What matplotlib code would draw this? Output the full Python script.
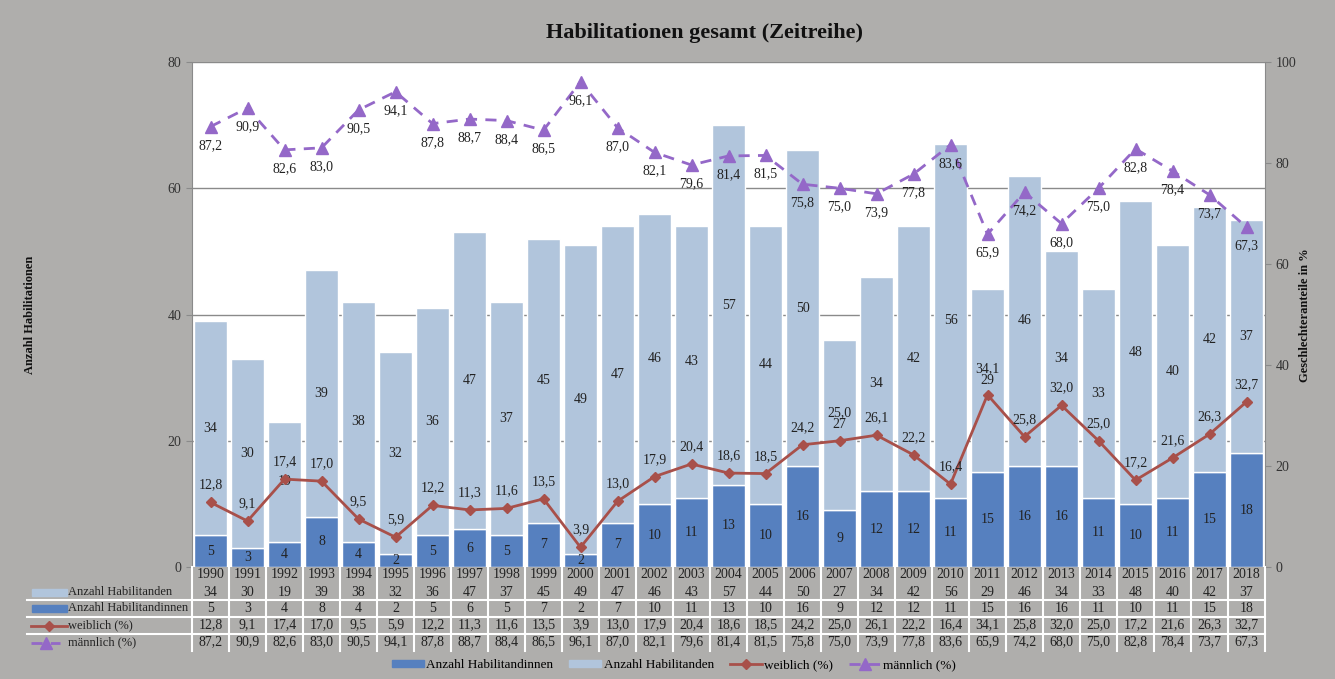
import matplotlib
matplotlib.use("Agg")
import matplotlib.pyplot as plt
import matplotlib.transforms as mtransforms
from matplotlib.lines import Line2D
from matplotlib.patches import Rectangle
import numpy as np

plt.rcParams['font.family'] = ['Liberation Serif', 'DejaVu Serif']

years = [str(y) for y in range(1990, 2019)]
habilitanden = [34, 30, 19, 39, 38, 32, 36, 47, 37, 45, 49, 47, 46, 43, 57, 44, 50, 27, 34, 42, 56, 29, 46, 34, 33, 48, 40, 42, 37]
habilitandinnen = [5, 3, 4, 8, 4, 2, 5, 6, 5, 7, 2, 7, 10, 11, 13, 10, 16, 9, 12, 12, 11, 15, 16, 16, 11, 10, 11, 15, 18]
weiblich = [12.8, 9.1, 17.4, 17.0, 9.5, 5.9, 12.2, 11.3, 11.6, 13.5, 3.9, 13.0, 17.9, 20.4, 18.6, 18.5, 24.2, 25.0, 26.1, 22.2, 16.4, 34.1, 25.8, 32.0, 25.0, 17.2, 21.6, 26.3, 32.7]
maennlich = [87.2, 90.9, 82.6, 83.0, 90.5, 94.1, 87.8, 88.7, 88.4, 86.5, 96.1, 87.0, 82.1, 79.6, 81.4, 81.5, 75.8, 75.0, 73.9, 77.8, 83.6, 65.9, 74.2, 68.0, 75.0, 82.8, 78.4, 73.7, 67.3]

# label offsets (points) for the female-share labels that were moved in the original
w_label_offset = {'2007': 20, '2011': 19}

BG = '#afaeac'
DARK = '#5680bf'
LIGHT = '#b1c5dc'
RED = '#a8504a'
PURPLE = '#9468c8'
TXT = '#222222'

W, H = 1335, 679
fig = plt.figure(figsize=(W / 100, H / 100), dpi=100, facecolor=BG)
L, R, T, B = 192, 1265, 62, 567
ax = fig.add_axes([L / W, 1 - B / H, (R - L) / W, (B - T) / H])
ax.set_facecolor('white')
n = len(years)
x = np.arange(n)

fmt = lambda v: f"{v:.1f}".replace('.', ',')

ax.bar(x, habilitandinnen, width=0.88, color=DARK, edgecolor='white', linewidth=1.0, zorder=2)
ax.bar(x, habilitanden, bottom=habilitandinnen, width=0.88, color=LIGHT, edgecolor='white', linewidth=1.0, zorder=2)
for i in range(n):
    ax.text(x[i], habilitandinnen[i] / 2, str(habilitandinnen[i]), ha='center', va='center', fontsize=10, color=TXT, zorder=5)
    ax.text(x[i], habilitandinnen[i] + habilitanden[i] / 2, str(habilitanden[i]), ha='center', va='center', fontsize=10, color=TXT, zorder=5)

ax.set_xlim(-0.5, n - 0.5)
ax.set_ylim(0, 80)
ax.set_yticks([0, 20, 40, 60, 80])
ax.set_xticks([])
for yv in [20, 40, 60, 80]:
    ax.axhline(yv, color='#8a8a8a', linewidth=1.0, zorder=1)
for s in ['top', 'bottom']:
    ax.spines[s].set_visible(False)
ax.spines['left'].set_color('#8a8a8a')
ax.spines['right'].set_visible(False)
ax.tick_params(axis='y', colors='#8a8a8a', labelcolor='#333333', labelsize=10, length=4)

ax2 = ax.twinx()
ax2.set_ylim(0, 100)
ax2.set_yticks([0, 20, 40, 60, 80, 100])
for s in ['top', 'bottom', 'left']:
    ax2.spines[s].set_visible(False)
ax2.spines['right'].set_color('#8a8a8a')
ax2.tick_params(axis='y', colors='#8a8a8a', labelcolor='#333333', labelsize=10, length=4)

ax2.plot(x, weiblich, color=RED, linewidth=2, marker='D', markersize=5, zorder=4)
ax2.plot(x, maennlich, color=PURPLE, linewidth=2, linestyle=(0, (4, 3)), marker='^', markersize=8.5, zorder=4)
for i in range(n):
    off = w_label_offset.get(years[i], 12.5)
    ax2.annotate(fmt(weiblich[i]), (x[i], weiblich[i]), xytext=(0, off), textcoords='offset points',
                 ha='center', va='center', fontsize=10, color=TXT, zorder=6)
    ax2.annotate(fmt(maennlich[i]), (x[i], maennlich[i]), xytext=(0, -13.5), textcoords='offset points',
                 ha='center', va='center', fontsize=10, color=TXT, zorder=6)

# Titles / axis labels
fig.text(705 / W, 1 - 33 / H, 'Habilitationen gesamt (Zeitreihe)', ha='center', va='center',
         fontsize=16, fontweight='bold', color='#111111')
fig.text(30 / W, 1 - 315 / H, 'Anzahl Habilitationen', rotation=90, ha='center', va='center',
         fontsize=9, fontweight='bold', color='#111111')
fig.text(1305 / W, 1 - 315 / H, 'Geschlechteranteile in %', rotation=90, ha='center', va='center',
         fontsize=9, fontweight='bold', color='#111111')

# Data table
tr = mtransforms.blended_transform_factory(ax.transData, fig.transFigure)
fy = lambda py: 1 - py / H
row_y = [575, 592, 608, 625, 642]
rows = [years, [str(v) for v in habilitanden], [str(v) for v in habilitandinnen],
        [fmt(v) for v in weiblich], [fmt(v) for v in maennlich]]
for r, (py, vals) in enumerate(zip(row_y, rows)):
    for i, v in enumerate(vals):
        fig.text(x[i], fy(py), v, transform=tr, ha='center', va='center', fontsize=10, color=TXT)
for i in range(n + 1):
    fig.add_artist(Line2D([i - 0.5, i - 0.5], [fy(567), fy(651)], transform=tr, color='white', linewidth=1.5))
for py in [600, 617, 634]:
    fig.add_artist(Line2D([27 / W, R / W], [fy(py), fy(py)], transform=fig.transFigure, color='white', linewidth=1.5))

# Row labels with symbols
lab_x = 68 / W
fig.add_artist(Rectangle((32 / W, fy(596)), 35 / W, 7 / H, transform=fig.transFigure, color=LIGHT))
fig.text(lab_x, fy(592), 'Anzahl Habilitanden', ha='left', va='center', fontsize=9, color=TXT)
fig.add_artist(Rectangle((32 / W, fy(612)), 35 / W, 7 / H, transform=fig.transFigure, color=DARK))
fig.text(lab_x, fy(608), 'Anzahl Habilitandinnen', ha='left', va='center', fontsize=9, color=TXT)
fig.add_artist(Line2D([31 / W, 67 / W], [fy(626), fy(626)], transform=fig.transFigure, color=RED, linewidth=2))
fig.add_artist(Line2D([49 / W], [fy(626)], transform=fig.transFigure, color=RED, marker='D', markersize=5, linestyle='none'))
fig.text(lab_x, fy(625), 'weiblich (%)', ha='left', va='center', fontsize=9, color=TXT)
fig.add_artist(Line2D([31 / W, 60 / W], [fy(643), fy(643)], transform=fig.transFigure, color=PURPLE, linewidth=2,
                      linestyle=(0, (4, 3))))
fig.add_artist(Line2D([46 / W], [fy(643)], transform=fig.transFigure, color=PURPLE, marker='^', markersize=8, linestyle='none'))
fig.text(lab_x, fy(642), 'männlich (%)', ha='left', va='center', fontsize=9, color=TXT)

# Legend
handles = [
    Rectangle((0, 0), 1, 1, color=DARK),
    Rectangle((0, 0), 1, 1, color=LIGHT),
    Line2D([], [], color=RED, linewidth=2, marker='D', markersize=5),
    Line2D([], [], color=PURPLE, linewidth=2, linestyle=(0, (4, 3)), marker='^', markersize=8),
]
labels = ['Anzahl Habilitandinnen', 'Anzahl Habilitanden', 'weiblich (%)', 'männlich (%)']
fig.legend(handles, labels, loc='center', bbox_to_anchor=(0.505, fy(665)), ncol=4, frameon=False,
           fontsize=9.5, handlelength=2.4, handleheight=0.5, columnspacing=1.2, handletextpad=0.2)

fig.savefig('out.png', dpi=100, facecolor=BG)
